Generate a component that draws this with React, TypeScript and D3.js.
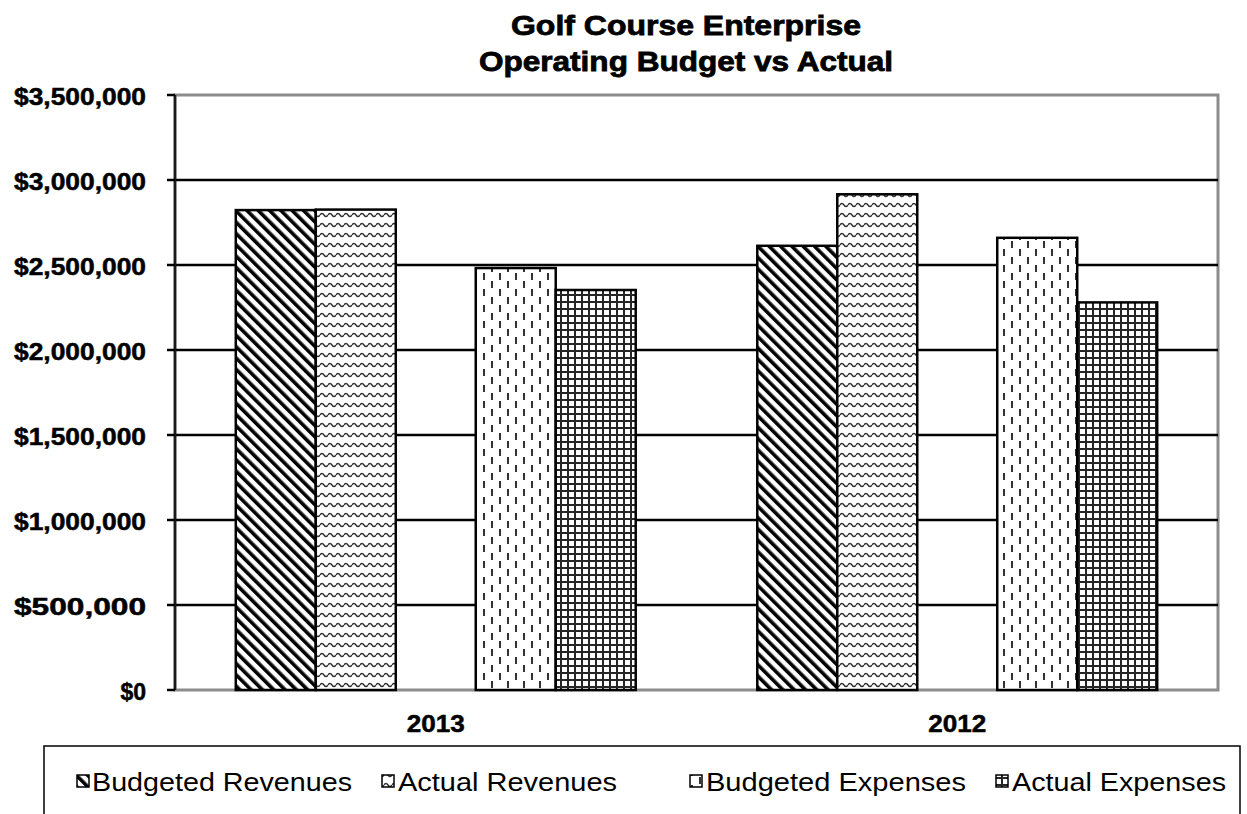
import React from "react";
import * as d3 from "d3";

const categories = ["2013", "2012"];
const seriesNames = ["Budgeted Revenues", "Actual Revenues", "", "Budgeted Expenses", "Actual Expenses"];
const budgetedRevenues = [2823000, 2613000];
const actualRevenues = [2826000, 2916000];
const blankSeries = [0, 0];
const budgetedExpenses = [2482000, 2660000];
const actualExpenses = [2353000, 2280000];
const yTicks = [0, 500000, 1000000, 1500000, 2000000, 2500000, 3000000, 3500000];
const titleLines = ["Golf Course Enterprise", "Operating Budget vs Actual"];

const seriesValues = [budgetedRevenues, actualRevenues, blankSeries, budgetedExpenses, actualExpenses];
const patternIds = ["pDiag", "pWave", "", "pDash", "pGrid"];

const W = 1247;
const H = 814;
const plot = { left: 175, right: 1218, top: 95, bottom: 690 };

export default function App() {
  const x0 = d3.scaleBand<string>().domain(categories).range([plot.left, plot.right]).padding(0);
  const x1 = d3
    .scaleBand<number>()
    .domain(d3.range(seriesNames.length))
    .range([0, x0.bandwidth()])
    .paddingInner(0)
    .paddingOuter(0.76);
  const y = d3.scaleLinear().domain([0, 3500000]).range([plot.bottom, plot.top]);
  const fmt = (v: number) => "$" + d3.format(",")(v);
  const font = "'Liberation Sans', Arial, sans-serif";

  const legendItems = [
    { s: 0, mx: 77, tx: 92, tl: 260 },
    { s: 1, mx: 382, tx: 398, tl: 219 },
    { s: 3, mx: 690, tx: 706, tl: 260 },
    { s: 4, mx: 996, tx: 1012, tl: 214 },
  ];

  return (
    <svg width={W} height={H} style={{ position: "absolute", left: 0, top: 0, background: "#fff" }}>
      <defs>
        <pattern id="pDiag" patternUnits="userSpaceOnUse" width="8" height="8" patternTransform="rotate(-45)">
          <rect width="8" height="8" fill="#fff" />
          <rect x="0" y="0" width="3.6" height="8" fill="#000" />
        </pattern>
        <pattern id="pWave" patternUnits="userSpaceOnUse" width="8" height="10">
          <rect width="8" height="10" fill="#fff" />
          <path d="M0,5 Q2,2 4,5 T8,5" fill="none" stroke="#333" strokeWidth="1.5" />
        </pattern>
        <pattern id="pDash" patternUnits="userSpaceOnUse" width="16" height="16">
          <rect width="16" height="16" fill="#fff" />
          <rect x="3" y="1" width="2" height="7" fill="#333" />
          <rect x="11" y="9" width="2" height="7" fill="#333" />
        </pattern>
        <pattern id="pGrid" patternUnits="userSpaceOnUse" width="7" height="7">
          <rect width="7" height="7" fill="#fff" />
          <rect x="0" y="0" width="2" height="7" fill="#262626" />
          <rect x="0" y="0" width="7" height="2" fill="#262626" />
        </pattern>
      </defs>

      {/* title */}
      <text x={686} y={35} textAnchor="middle" fontFamily={font} fontWeight="bold" fontSize={28} textLength={350} lengthAdjust="spacingAndGlyphs" fill="#000" stroke="#000" strokeWidth={0.8}>
        {titleLines[0]}
      </text>
      <text x={686} y={71} textAnchor="middle" fontFamily={font} fontWeight="bold" fontSize={28} textLength={414} lengthAdjust="spacingAndGlyphs" fill="#000" stroke="#000" strokeWidth={0.8}>
        {titleLines[1]}
      </text>

      {/* plot border */}
      <rect x={plot.left} y={plot.top} width={plot.right - plot.left} height={plot.bottom - plot.top} fill="#fff" stroke="#8c8c8c" strokeWidth={3} />

      {/* gridlines */}
      {yTicks.filter((t) => t > 0 && t < 3500000).map((t) => (
        <line key={t} x1={plot.left} x2={plot.right} y1={y(t)} y2={y(t)} stroke="#000" strokeWidth={2.5} />
      ))}

      {/* bars */}
      {categories.map((c, ci) =>
        seriesValues.map((vals, si) =>
          seriesNames[si] === "" ? null : (
            <rect
              key={c + si}
              x={(x0(c) as number) + (x1(si) as number)}
              y={y(vals[ci])}
              width={x1.bandwidth()}
              height={y(0) - y(vals[ci])}
              fill={`url(#${patternIds[si]})`}
              stroke="#000"
              strokeWidth={2.5}
            />
          )
        )
      )}

      {/* y axis */}
      <line x1={plot.left} x2={plot.left} y1={plot.top} y2={plot.bottom} stroke="#1a1a1a" strokeWidth={2.5} />
      {yTicks.map((t) => (
        <g key={t}>
          <line x1={plot.left - 8} x2={plot.left} y1={y(t)} y2={y(t)} stroke="#000" strokeWidth={2.5} />
          <text x={146} y={y(t) + 10} textAnchor="end" fontFamily={font} fontWeight="bold" fontSize={23} fill="#000" stroke="#000" strokeWidth={0.5}
            textLength={fmt(t).length > 2 ? 132 : undefined} lengthAdjust="spacingAndGlyphs">
            {fmt(t)}
          </text>
        </g>
      ))}

      {/* x labels */}
      {categories.map((c) => (
        <text key={c} x={(x0(c) as number) + x0.bandwidth() / 2} y={732} textAnchor="middle" fontFamily={font} fontWeight="bold" fontSize={24} textLength={58} lengthAdjust="spacingAndGlyphs" fill="#000" stroke="#000" strokeWidth={0.5}>
          {c}
        </text>
      ))}

      {/* legend */}
      <rect x={44} y={746} width={1196} height={120} fill="#fff" stroke="#000" strokeWidth={1.5} />
      {legendItems.map((it) => (
        <g key={it.s}>
          <rect x={it.mx} y={775} width={12} height={12} fill={`url(#${patternIds[it.s]})`} stroke="#000" strokeWidth={1.5} />
          <text x={it.tx} y={791} fontFamily={font} fontSize={26} textLength={it.tl} lengthAdjust="spacingAndGlyphs" fill="#000">
            {seriesNames[it.s]}
          </text>
        </g>
      ))}
    </svg>
  );
}
